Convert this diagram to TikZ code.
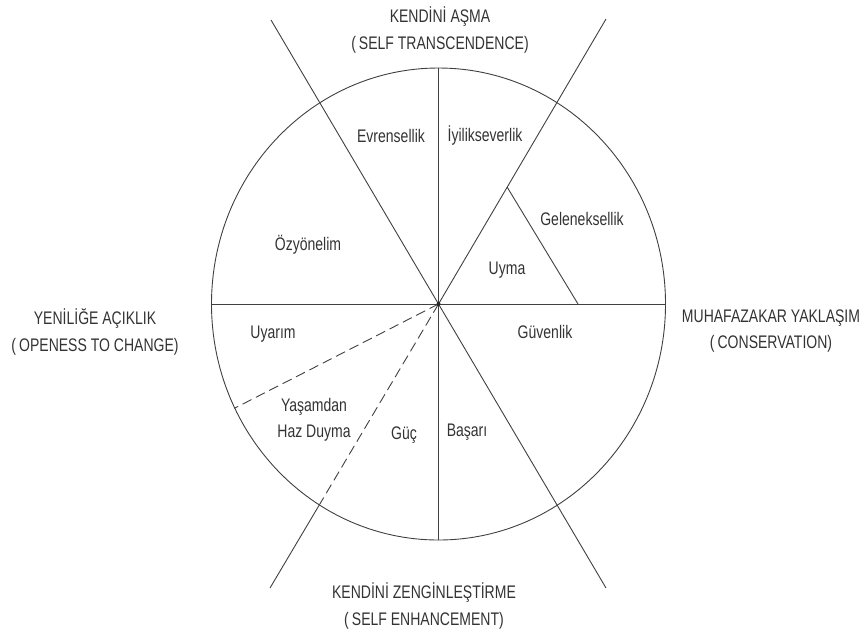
\documentclass[tikz,border=0pt]{standalone}
\usepackage{fontspec}
\setmainfont{Liberation Sans}[FakeStretch=0.77]
\usetikzlibrary{calc}

\tikzset{
  lbl/.style={font=\fontsize{18.2}{26.5}\selectfont, text=black!80, inner sep=0pt, align=center},
  edge/.style={draw=black!75, line width=0.9pt},
  split/.style={edge, dash pattern=on 10pt off 5pt},
}

\begin{document}
\begin{tikzpicture}[x=1pt,y=-1pt]
    \useasboundingbox (0,0) rectangle (866,630);
    \coordinate (O) at (438.5,304);

    % Circle and axes
    \draw[edge] (O) ellipse [x radius=227, y radius=236];
    \draw[edge] (438.5,68) -- (438.5,540);
    \draw[edge] (211.5,304) -- (665.5,304);

    % Diagonals
    \coordinate (TL) at (271,20);
    \coordinate (BR) at (606,588);
    \coordinate (TR) at (606,19);
    \coordinate (BL) at (270,588);
    \coordinate (X) at ($(O)!0.707!(BL)$);
    \draw[edge] (TL) -- (BR);
    \draw[edge] (TR) -- (O);
    \draw[split] (O) -- (X);
    \draw[edge] (X) -- (BL);

    % Inner borders
    \draw[split] (O) -- (234.4,408.3);
    \draw[edge] ($(O)!0.41!(TR)$) -- (578,304);
    \fill[black!85] (O) circle (2);

    % Poles
    \node[lbl] (asma) at (440,30) {KENDİNİ AŞMA\\(\,SELF TRANSCENDENCE)};
    \node[lbl] (zengin) at (424,606) {KENDİNİ ZENGİNLEŞTİRME\\(\,SELF ENHANCEMENT)};
    \node[lbl] (yenilik) at (95,332) {YENİLİĞE AÇIKLIK\\(\,OPENESS TO CHANGE)};
    \node[lbl] (muhafaza) at (771,331) {MUHAFAZAKAR YAKLAŞIM\\(\,CONSERVATION)};

    % Values
    \node[lbl] (evren) at (391,136) {Evrensellik};
    \node[lbl] (iyilik) at (485,135) {İyilikseverlik};
    \node[lbl] (gelenek) at (582,219) {Geleneksellik};
    \node[lbl] (ozyon) at (308,245) {Özyönelim};
    \node[lbl] (uyma) at (507,270) {Uyma};
    \node[lbl] (uyarim) at (273,334) {Uyarım};
    \node[lbl] (guven) at (545,332) {Güvenlik};
    \node[lbl] (haz) at (314,420) {Yaşamdan\\Haz Duyma};
    \node[lbl] (guc) at (404,435) {Güç};
    \node[lbl] (basari) at (467,432) {Başarı};
\end{tikzpicture}
\end{document}
